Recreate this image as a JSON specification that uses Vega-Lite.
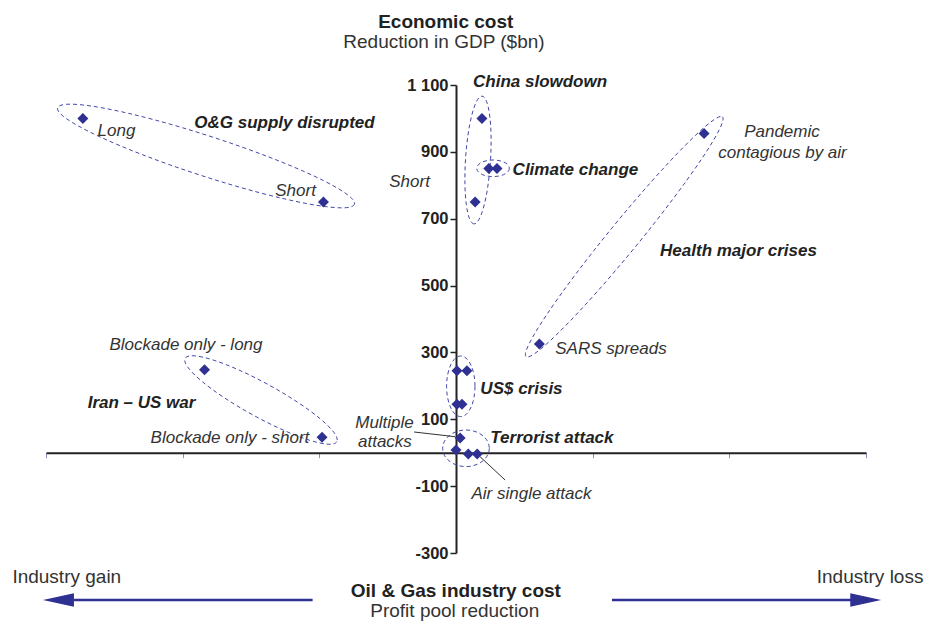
{
  "$schema": "https://vega.github.io/schema/vega-lite/v6.json",
  "width": 820,
  "height": 468,
  "autosize": "none",
  "padding": {"left": 46, "top": 85, "right": 61, "bottom": 68},
  "background": "white",
  "config": {"view": {"stroke": null}},
  "resolve": {"scale": {"shape": "independent"}},
  "datasets": {
    "points": [
      {"x": -27.3, "y": 1000}, {"x": -9.7, "y": 750},
      {"x": 1.9, "y": 1000}, {"x": 1.4, "y": 750},
      {"x": 2.4, "y": 850}, {"x": 3.0, "y": 850},
      {"x": 18.15, "y": 955}, {"x": 6.1, "y": 325},
      {"x": -18.4, "y": 248}, {"x": -9.8, "y": 46},
      {"x": 0.07, "y": 245}, {"x": 0.8, "y": 245},
      {"x": 0.07, "y": 145}, {"x": 0.44, "y": 145},
      {"x": 0.3, "y": 44}, {"x": 0, "y": 8},
      {"x": 0.9, "y": -4}, {"x": 1.55, "y": -4}
    ],
    "ellipses": [
      {"group": "oandg", "x": -18.29, "y": 887.6},
      {"group": "china", "x": 1.61, "y": 875.6},
      {"group": "climate", "x": 2.71, "y": 850.8},
      {"group": "health", "x": 12.31, "y": 646.2},
      {"group": "iran", "x": -14.27, "y": 157.7},
      {"group": "usd", "x": 0.35, "y": 198.7},
      {"group": "terror", "x": 0.73, "y": 13.2}
    ],
    "leaders": [
      {"x": -3.07, "y": 62, "x2": -0.07, "y2": 47.9},
      {"x": 1.76, "y": -11.9, "x2": 3.59, "y2": -81.6}
    ],
    "arrows": [
      {"x": -10.49, "x2": -27.95, "y": -440.6},
      {"x": 11.41, "x2": 28.9, "y": -440.6}
    ],
    "heads": [
      {"dir": "left", "x": -29.09, "y": -440.6},
      {"dir": "right", "x": 29.98, "y": -440.6}
    ],
    "labelsBold": [
      {"t": "China slowdown", "x": 6.15, "y": 1094.9},
      {"t": "O&G supply disrupted", "x": -12.55, "y": 971.4},
      {"t": "Climate change", "x": 8.74, "y": 830.8},
      {"t": "Health major crises", "x": 20.67, "y": 588.5},
      {"t": "Iran – US war", "x": -23.01, "y": 133.8},
      {"t": "US$ crisis", "x": 4.79, "y": 175.7},
      {"t": "Terrorist attack", "x": 7.02, "y": 29.1}
    ],
    "labelsItalic": [
      {"t": "Long", "x": -24.84, "y": 947.4},
      {"t": "Short", "x": -11.74, "y": 768},
      {"t": "Short", "x": -3.4, "y": 794.9},
      {"t": "Pandemic", "x": 23.85, "y": 944.4},
      {"t": "contagious by air", "x": 23.89, "y": 881.6},
      {"t": "SARS spreads", "x": 11.34, "y": 295.3},
      {"t": "Blockade only - long", "x": -19.76, "y": 307.3},
      {"t": "Blockade only - short", "x": -16.54, "y": 29.1},
      {"t": "Multiple", "x": -5.23, "y": 74.5},
      {"t": "attacks", "x": -5.2, "y": 18},
      {"t": "Air single attack", "x": 5.52, "y": -138.4}
    ],
    "titlesBold": [
      {"t": "Economic cost", "x": -0.75, "y": 1269.6},
      {"t": "Oil & Gas industry cost", "x": -0.01, "y": -430.7}
    ],
    "titlesRegular": [
      {"t": "Reduction in GDP ($bn)", "x": -0.88, "y": 1209.8},
      {"t": "Profit pool reduction", "x": -0.09, "y": -490.6},
      {"t": "Industry gain", "x": -28.48, "y": -390.6},
      {"t": "Industry loss", "x": 30.3, "y": -390.6}
    ]
  },
  "encoding": {
    "x": {
      "field": "x", "type": "quantitative",
      "scale": {"domain": [-30, 30], "nice": false, "zero": false},
      "axis": {
        "offset": -100.3, "values": [-30, -20, -10, 0, 10, 20, 30],
        "labels": false, "title": null, "grid": false,
        "domainColor": "#222222", "domainWidth": 2,
        "tickColor": "#8a8fc0", "tickSize": 5, "tickWidth": 1
      }
    },
    "y": {
      "field": "y", "type": "quantitative",
      "scale": {"domain": [-300, 1100], "nice": false, "zero": false},
      "axis": {
        "offset": -410, "values": [-300, -100, 100, 300, 500, 700, 900, 1100],
        "labelExpr": "datum.value === 1100 ? '1 100' : '' + datum.value",
        "title": null, "grid": false,
        "labelFont": "Liberation Sans", "labelFontWeight": "bold", "labelFontSize": 16.5,
        "labelColor": "#222222", "labelPadding": 2,
        "domainColor": "#222222", "domainWidth": 2,
        "tickColor": "#222222", "tickSize": 6, "tickWidth": 1.5
      }
    }
  },
  "layer": [
    {
      "data": {"name": "ellipses"},
      "mark": {"type": "point", "filled": false, "stroke": "#4348a8", "strokeWidth": 1, "strokeDash": [4, 3], "opacity": 1},
      "encoding": {
        "shape": {
          "field": "group", "type": "nominal", "legend": null,
          "scale": {
            "domain": ["oandg", "china", "climate", "health", "iran", "usd", "terror"],
            "range": [
              "M 0.9273 0.3013 C 0.9059 0.367 0.4735 0.2853 -0.0386 0.1189 C -0.5508 -0.0476 -0.9486 -0.2356 -0.9273 -0.3013 C -0.9059 -0.367 -0.4735 -0.2853 0.0386 -0.1189 C 0.5508 0.0476 0.9486 0.2356 0.9273 0.3013 Z",
              "M -0.0251 0.3992 C -0.0682 0.3965 -0.0918 0.2156 -0.078 -0.0049 C -0.0641 -0.2254 -0.0179 -0.4019 0.0251 -0.3992 C 0.0682 -0.3965 0.0918 -0.2156 0.078 0.0049 C 0.0641 0.2254 0.0179 0.4019 -0.0251 0.3992 Z",
              "M 0.1019 0 C 0.1019 0.0287 0.0563 0.0519 0 0.0519 C -0.0563 0.0519 -0.1019 0.0287 -0.1019 0 C -0.1019 -0.0287 -0.0563 -0.0519 0 -0.0519 C 0.0563 -0.0519 0.1019 -0.0287 0.1019 0 Z",
              "M 0.6136 -0.7497 C 0.6536 -0.7169 0.4114 -0.3547 0.0726 0.0594 C -0.2663 0.4734 -0.5735 0.7825 -0.6136 0.7497 C -0.6536 0.7169 -0.4114 0.3547 -0.0726 -0.0594 C 0.2663 -0.4734 0.5735 -0.7825 0.6136 -0.7497 Z",
              "M 0.4738 0.2604 C 0.4455 0.3119 0.2104 0.2369 -0.0512 0.0931 C -0.3128 -0.0507 -0.502 -0.209 -0.4738 -0.2604 C -0.4455 -0.3119 -0.2104 -0.2369 0.0512 -0.0931 C 0.3128 0.0507 0.502 0.209 0.4738 0.2604 Z",
              "M 0.0888 0 C 0.0888 0.1046 0.049 0.1894 0 0.1894 C -0.049 0.1894 -0.0888 0.1046 -0.0888 0 C -0.0888 -0.1046 -0.049 -0.1894 0 -0.1894 C 0.049 -0.1894 0.0888 -0.1046 0.0888 0 Z",
              "M 0.1456 0 C 0.1456 0.0632 0.0804 0.1144 0 0.1144 C -0.0804 0.1144 -0.1456 0.0632 -0.1456 0 C -0.1456 -0.0632 -0.0804 -0.1144 0 -0.1144 C 0.0804 -0.1144 0.1456 -0.0632 0.1456 0 Z"
            ]
          }
        },
        "size": {"value": 102400}
      }
    },
    {
      "data": {"name": "leaders"},
      "mark": {"type": "rule", "color": "#333333", "strokeWidth": 1},
      "encoding": {
        "x2": {"field": "x2"},
        "y2": {"field": "y2"}
      }
    },
    {
      "data": {"name": "points"},
      "mark": {"type": "point", "shape": "diamond", "filled": true, "color": "#2e3192", "size": 121, "opacity": 1},
      "encoding": {}
    },
    {
      "data": {"name": "arrows"},
      "mark": {"type": "rule", "color": "#2e3192", "strokeWidth": 2.5},
      "encoding": {"x2": {"field": "x2"}}
    },
    {
      "data": {"name": "heads"},
      "mark": {"type": "point", "filled": true, "color": "#2e3192", "opacity": 1, "size": 961},
      "encoding": {
        "shape": {
          "field": "dir", "type": "nominal", "legend": null,
          "scale": {"domain": ["left", "right"], "range": ["M -1 0 L 1 -0.43 L 1 0.43 Z", "M 1 0 L -1 -0.43 L -1 0.43 Z"]}
        }
      }
    },
    {
      "data": {"name": "labelsBold"},
      "mark": {"type": "text", "align": "center", "baseline": "alphabetic", "font": "Liberation Sans", "fontSize": 17, "fontWeight": "bold", "fontStyle": "italic", "color": "#222222"},
      "encoding": {"text": {"field": "t"}}
    },
    {
      "data": {"name": "labelsItalic"},
      "mark": {"type": "text", "align": "center", "baseline": "alphabetic", "font": "Liberation Sans", "fontSize": 17, "fontStyle": "italic", "color": "#333333"},
      "encoding": {"text": {"field": "t"}}
    },
    {
      "data": {"name": "titlesBold"},
      "mark": {"type": "text", "align": "center", "baseline": "alphabetic", "font": "Liberation Sans", "fontSize": 19, "fontWeight": "bold", "color": "#222222"},
      "encoding": {"text": {"field": "t"}}
    },
    {
      "data": {"name": "titlesRegular"},
      "mark": {"type": "text", "align": "center", "baseline": "alphabetic", "font": "Liberation Sans", "fontSize": 19, "color": "#333333"},
      "encoding": {"text": {"field": "t"}}
    }
  ]
}
